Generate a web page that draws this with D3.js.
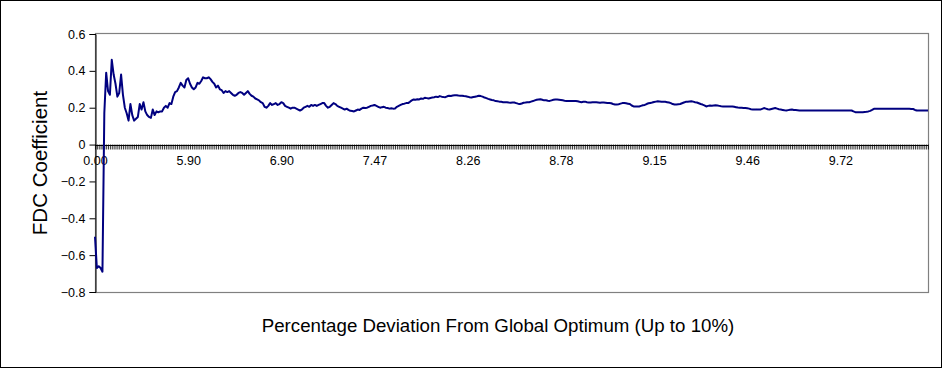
<!DOCTYPE html>
<html>
<head>
<meta charset="utf-8">
<script src="https://cdn.jsdelivr.net/npm/d3@7"></script>
<style>
  html, body { margin: 0; padding: 0; background: #fff; }
  svg { display: block; font-family: "Liberation Sans", Arial, sans-serif; }
</style>
</head>
<body>
<svg id="chart" width="943" height="370"></svg>
<script>
// FDC coefficient per sorted sample (one value per category)
const fdcValues = [
  -0.50, -0.67, -0.66, -0.67, -0.69, 0.17, 0.39, 0.29, 0.27, 0.46,
  0.38, 0.33, 0.26, 0.28, 0.38, 0.27, 0.20, 0.17, 0.13, 0.22,
  0.16, 0.13, 0.14, 0.15, 0.22, 0.19, 0.23, 0.18, 0.16, 0.15,
  0.145, 0.19, 0.16, 0.18, 0.175, 0.18, 0.18, 0.20, 0.21, 0.20,
  0.225, 0.22, 0.26, 0.285, 0.29, 0.31, 0.335, 0.32, 0.31, 0.35,
  0.36, 0.33, 0.31, 0.30, 0.31, 0.335, 0.33, 0.345, 0.365, 0.36,
  0.36, 0.365, 0.355, 0.34, 0.33, 0.31, 0.32, 0.30, 0.295, 0.28,
  0.29, 0.285, 0.29, 0.28, 0.27, 0.265, 0.27, 0.28, 0.285, 0.28,
  0.27, 0.28, 0.29, 0.275, 0.265, 0.26, 0.25, 0.245, 0.24, 0.23,
  0.225, 0.205, 0.20, 0.21, 0.225, 0.215, 0.22, 0.225, 0.215, 0.22,
  0.23, 0.225, 0.21, 0.205, 0.20, 0.195, 0.20, 0.20, 0.195, 0.19,
  0.185, 0.19, 0.20, 0.205, 0.21, 0.205, 0.215, 0.21, 0.215, 0.21,
  0.215, 0.22, 0.225, 0.225, 0.21, 0.20, 0.205, 0.215, 0.225, 0.22,
  0.21, 0.205, 0.20, 0.195, 0.19, 0.195, 0.188, 0.183, 0.182, 0.18,
  0.185, 0.19, 0.188, 0.195, 0.20, 0.198, 0.20, 0.205, 0.21, 0.212,
  0.215, 0.21, 0.205, 0.20, 0.203, 0.205, 0.20, 0.198, 0.195, 0.197,
  0.195, 0.196, 0.205, 0.21, 0.215, 0.22, 0.222, 0.225, 0.225, 0.232,
  0.24, 0.245, 0.243, 0.246, 0.245, 0.25, 0.248, 0.254, 0.252, 0.25,
  0.253, 0.255, 0.257, 0.26, 0.258, 0.263, 0.26, 0.258, 0.257, 0.262,
  0.265, 0.264, 0.266, 0.267, 0.268, 0.266, 0.265, 0.265, 0.263, 0.262,
  0.26, 0.257, 0.255, 0.258, 0.26, 0.262, 0.265, 0.263, 0.26, 0.255,
  0.252, 0.248, 0.245, 0.242, 0.24, 0.236, 0.235, 0.233, 0.232, 0.23,
  0.229, 0.23, 0.228, 0.227, 0.228, 0.228, 0.225, 0.222, 0.22, 0.223,
  0.227, 0.228, 0.23, 0.23, 0.233, 0.236, 0.24, 0.243, 0.245, 0.246,
  0.243, 0.24, 0.24, 0.238, 0.237, 0.24, 0.243, 0.245, 0.244, 0.243,
  0.242, 0.24, 0.238, 0.237, 0.236, 0.237, 0.237, 0.236, 0.237, 0.235,
  0.232, 0.23, 0.232, 0.233, 0.23, 0.228, 0.228, 0.229, 0.23, 0.229,
  0.228, 0.227, 0.228, 0.228, 0.227, 0.226, 0.226, 0.224, 0.22, 0.218,
  0.217, 0.219, 0.222, 0.225, 0.226, 0.224, 0.222, 0.22, 0.212, 0.207,
  0.207, 0.207, 0.207, 0.21, 0.213, 0.215, 0.22, 0.224, 0.226, 0.228,
  0.231, 0.233, 0.235, 0.234, 0.233, 0.232, 0.232, 0.23, 0.228, 0.225,
  0.22, 0.217, 0.218, 0.219, 0.22, 0.224, 0.228, 0.232, 0.233, 0.234,
  0.235, 0.233, 0.23, 0.228, 0.224, 0.22, 0.217, 0.213, 0.207, 0.21,
  0.212, 0.211, 0.212, 0.213, 0.212, 0.21, 0.208, 0.207, 0.207, 0.207,
  0.207, 0.207, 0.207, 0.205, 0.203, 0.201, 0.20, 0.20, 0.199, 0.198,
  0.197, 0.195, 0.192, 0.19, 0.19, 0.191, 0.19, 0.19, 0.194, 0.198,
  0.195, 0.192, 0.19, 0.193, 0.196, 0.198, 0.195, 0.192, 0.19, 0.188,
  0.186, 0.185, 0.187, 0.189, 0.19, 0.188, 0.187, 0.186, 0.185, 0.185,
  0.185, 0.185, 0.185, 0.185, 0.185, 0.185, 0.185, 0.185, 0.185, 0.185,
  0.185, 0.185, 0.185, 0.185, 0.185, 0.185, 0.185, 0.185, 0.185, 0.185,
  0.185, 0.185, 0.185, 0.185, 0.185, 0.185, 0.185, 0.18, 0.176, 0.176,
  0.176, 0.176, 0.176, 0.177, 0.178, 0.18, 0.183, 0.188, 0.194, 0.194,
  0.194, 0.194, 0.194, 0.194, 0.194, 0.194, 0.194, 0.194, 0.194, 0.194,
  0.194, 0.194, 0.194, 0.194, 0.194, 0.194, 0.194, 0.194, 0.193, 0.193,
  0.188, 0.185, 0.185, 0.185, 0.185, 0.185, 0.185, 0.185
];

// category labels shown on the x axis, one every labelStep categories
const labelStep = 50;
const xTickLabels = ["0.00", "5.90", "6.90", "7.47", "8.26", "8.78", "9.15", "9.46", "9.72"];

// value axis
const yTicks = [0.6, 0.4, 0.2, 0, -0.2, -0.4, -0.6, -0.8];
const yDomain = [-0.8, 0.6];

const svg = d3.select("#chart");
const plot = { left: 95, right: 928, top: 34, bottom: 292 };

const n = fdcValues.length;
const x = d3.scaleLinear().domain([0, n - 1]).range([plot.left, plot.right]);
const y = d3.scaleLinear().domain(yDomain).range([plot.bottom, plot.top]);

// outer frame
svg.append("rect")
  .attr("x", 0.5).attr("y", 0.5)
  .attr("width", 941).attr("height", 367)
  .attr("fill", "#fff").attr("stroke", "#000").attr("stroke-width", 1);

// plot area border
svg.append("rect")
  .attr("x", plot.left + 0.5).attr("y", Math.round(plot.top) - 0.5)
  .attr("width", plot.right - plot.left).attr("height", plot.bottom - plot.top + 1)
  .attr("fill", "none").attr("stroke", "#808080").attr("stroke-width", 1.2);

// y axis
const yAxis = d3.axisLeft(y)
  .tickValues(yTicks)
  .tickSize(6)
  .tickPadding(4)
  .tickFormat(d => d === 0 ? "0" : d3.format(".1f")(d));

const gy = svg.append("g")
  .attr("transform", `translate(${plot.left + 0.5},0)`)
  .call(yAxis);
gy.select(".domain").attr("stroke", "#000");
gy.selectAll(".tick line").attr("stroke", "#000");
gy.selectAll(".tick text")
  .attr("font-family", "Liberation Sans, Arial, sans-serif")
  .attr("font-size", 12.5)
  .attr("fill", "#000");

// category axis crossing at zero
const y0 = Math.round(y(0)) + 0.5;
const tickIdx = d3.range(n);
const xAxis = d3.axisBottom(x)
  .tickValues(tickIdx)
  .tickSize(4)
  .tickPadding(7)
  .tickFormat(i => (i % labelStep === 0 && xTickLabels[i / labelStep] !== undefined) ? xTickLabels[i / labelStep] : "");

const gx = svg.append("g")
  .attr("transform", `translate(0,${y0})`)
  .call(xAxis);
gx.select(".domain").attr("stroke", "#000").attr("d", `M${plot.left},0H${plot.right}`);
gx.selectAll(".tick line").attr("stroke", "#000").attr("stroke-width", 0.8).attr("y1", -1);
gx.selectAll(".tick text")
  .attr("font-family", "Liberation Sans, Arial, sans-serif")
  .attr("font-size", 12.5)
  .attr("fill", "#000");

// series line
const line = d3.line()
  .x((d, i) => x(i))
  .y(d => y(d));

svg.append("path")
  .datum(fdcValues)
  .attr("fill", "none")
  .attr("stroke", "#000080")
  .attr("stroke-width", 2)
  .attr("stroke-linejoin", "round")
  .attr("d", line);

// axis titles
svg.append("text")
  .attr("transform", `translate(47,${(plot.top + plot.bottom) / 2}) rotate(-90)`)
  .attr("text-anchor", "middle")
  .attr("font-family", "Liberation Sans, Arial, sans-serif")
  .attr("font-size", 20.5)
  .attr("fill", "#000")
  .text("FDC Coefficient");

svg.append("text")
  .attr("x", 498)
  .attr("y", 332)
  .attr("text-anchor", "middle")
  .attr("font-family", "Liberation Sans, Arial, sans-serif")
  .attr("font-size", 18.7)
  .attr("fill", "#000")
  .text("Percentage Deviation From Global Optimum (Up to 10%)");
</script>
</body>
</html>
